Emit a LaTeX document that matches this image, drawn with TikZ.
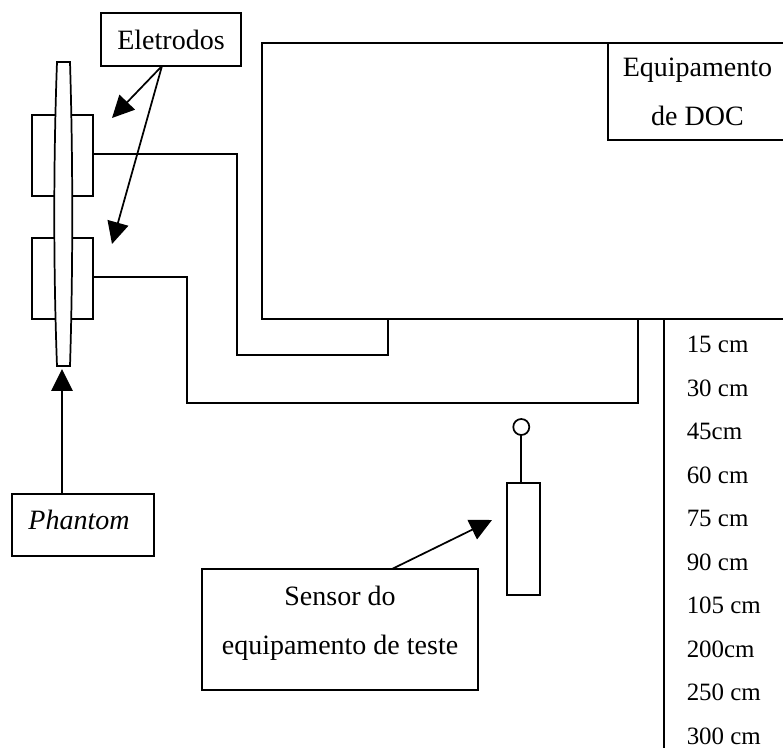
\documentclass[tikz,border=0pt]{standalone}
\usepackage{fontspec}
\setmainfont{Liberation Serif}
\usetikzlibrary{arrows.meta,positioning,calc}
\tikzset{
  linha/.style={line width=1.3pt,black},
  caixa/.style={draw,line width=1.3pt,fill=white,rectangle,inner sep=0pt,outer sep=0pt,anchor=north west,align=center,font=\fontsize{21}{37}\selectfont},
  seta/.style={linha,-{Triangle[length=16.5pt,width=16pt]}},
  distancia/.style={anchor=base west,inner sep=0pt,font=\fontsize{18.7}{22}\selectfont}
}
\begin{document}
\begin{tikzpicture}[x=.75pt,y=-.75pt]
\useasboundingbox (0,0) rectangle (783,748);
% equipamento de DOC
\node[caixa,minimum width=412.5pt,minimum height=207pt] (equip) at (262,43){};
\node[caixa,minimum width=134.25pt,minimum height=72.75pt,text depth=-1.5pt] (doc) at (608,43){Equipamento\\de DOC};
\coordinate (portaA) at (388,319);
\coordinate (portaB) at (638,319);
\draw[linha] (664,319)--(664,748);
% eletrodos e phantom
\node[caixa,minimum width=45.75pt,minimum height=60.75pt] (eletrodoA) at (32,115){};
\node[caixa,minimum width=45.75pt,minimum height=60.75pt] (eletrodoB) at (32,238){};
\filldraw[linha,fill=white] (57,62)--(70,62) .. controls (73,160) and (73,270) .. (70,366)--(57,366) .. controls (53.4,270) and (53.4,160) .. (57,62)--cycle;
\coordinate (fioA) at (93,154);
\coordinate (fioB) at (93,277);
\draw[linha] (fioA)-|(237,355)-|(portaA);
\draw[linha] (fioB)-|(187,403)-|(portaB);
\node[caixa,minimum width=105pt,minimum height=39.75pt] (eletrodos) at (101,13){Eletrodos};
\coordinate (saida) at (162,66);
\coordinate (pontaA) at (112,118);
\coordinate (pontaB) at (112,244);
\draw[seta] (saida)--(pontaA);
\draw[seta] (saida)--(pontaB);
\node[caixa,minimum width=106.5pt,minimum height=46.5pt,text depth=8pt] (phantom) at (12,494){\itshape Phantom\hspace{6pt}};
\coordinate (pontaP) at (62,369);
\draw[seta] (phantom.north -| pontaP)--(pontaP);
% sensor
\node[caixa,minimum width=24.5pt,minimum height=84pt] (sensor) at (507,483){};
\node[draw,circle,line width=1.3pt,inner sep=0pt,outer sep=0pt,minimum size=12pt] (sonda) at (521.3,427){};
\draw[linha] (sonda.south)--(sonda.south |- sensor.north);
\node[caixa,minimum width=207pt,minimum height=90.75pt,text depth=14pt] (rotulo) at (202,569){Sensor do\\equipamento de teste};
\coordinate (pontaS) at (492,520);
\draw[seta] (rotulo.north -| 392,0)--(pontaS);
% distancias
\foreach \d [count=\i from 0] in {15 cm,30 cm,45cm,60 cm,75 cm,90 cm,105 cm,200cm,250 cm,300 cm}{
  \node[distancia] (dist\i) at (686.5,353+43.45*\i) {\d};
}
\end{tikzpicture}
\end{document}
